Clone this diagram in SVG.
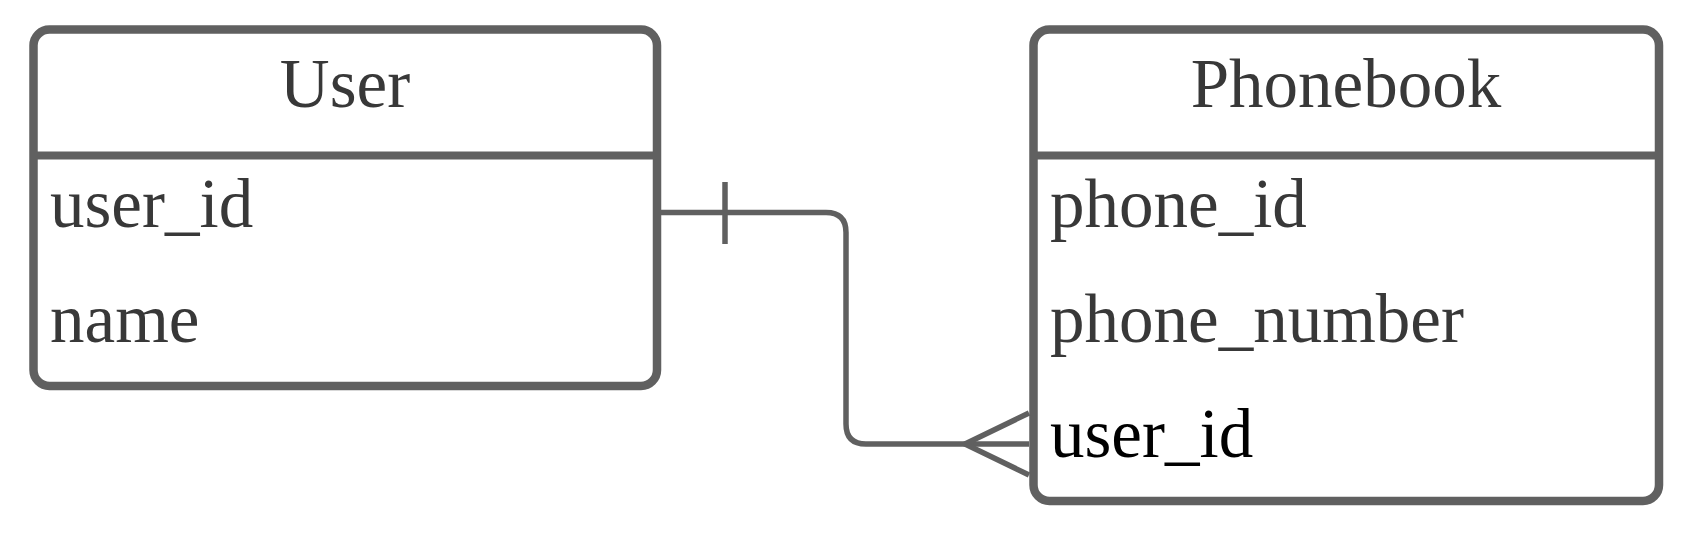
<svg xmlns="http://www.w3.org/2000/svg" width="1684" height="546" viewBox="0 0 1684 546">
  <style>
    .box { fill: #ffffff; stroke: #606060; stroke-width: 8.5; }
    .div { stroke: #606060; stroke-width: 8; fill: none; }
    .t { font-family: "Liberation Serif", "Times New Roman", serif; font-size: 69px; fill: #383838; }
    .title { text-anchor: middle; }
    .hl { fill: #000000; }
    .conn { fill: none; stroke: #606060; stroke-width: 5.5; stroke-linejoin: round; }
  </style>
  <rect width="1684" height="546" fill="#ffffff"/>
  <g id="node-user">
    <rect class="box" x="33.5" y="29.5" width="623.5" height="356.5" rx="16" ry="16"/>
    <line class="div" x1="33.5" y1="155.5" x2="657" y2="155.5"/>
    <text class="t title" x="345" y="107">User</text>
    <text class="t" x="50" y="227">user_id</text>
    <text class="t" x="50" y="342">name</text>
  </g>
  <g id="node-phonebook">
    <rect class="box" x="1033.5" y="29.5" width="625.5" height="471.5" rx="16" ry="16"/>
    <line class="div" x1="1033.5" y1="155.5" x2="1659" y2="155.5"/>
    <text class="t title" x="1346" y="107">Phonebook</text>
    <text class="t" x="1050" y="227">phone_id</text>
    <text class="t" x="1050" y="342">phone_number</text>
    <text class="t hl" x="1050" y="457">user_id</text>
  </g>
  <g id="connectors">
    <path class="conn" d="M 661 212.5 H 826 Q 846 212.5 846 232.5 V 424 Q 846 444 866 444 H 1029"/>
    <line class="conn" x1="725" y1="182" x2="725" y2="244"/>
    <polyline class="conn" points="1029,413 965,444 1029,475"/>
  </g>
</svg>
